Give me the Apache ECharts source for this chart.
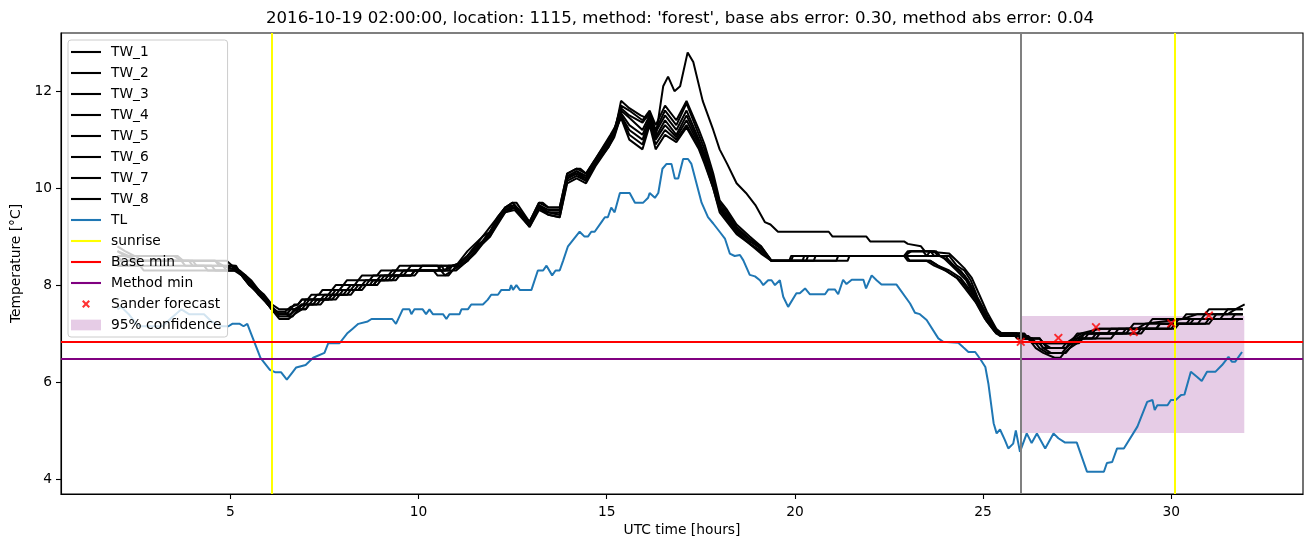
<!DOCTYPE html>
<html>
<head>
<meta charset="utf-8">
<script src="https://cdn.jsdelivr.net/npm/echarts@6/dist/echarts.min.js"></script>
<style>
html,body{margin:0;padding:0;background:#fff;}
#chart{width:1310px;height:547px;}
</style>
</head>
<body>
<div id="chart"></div>
<script>
// ---------------- data ----------------
const titleText = "2016-10-19 02:00:00, location: 1115, method: 'forest', base abs error: 0.30, method abs error: 0.04";
const xTicks = [5, 10, 15, 20, 25, 30];
const yTicks = [4, 6, 8, 10, 12];
const xRange = [0.5, 33.5];
const yRange = [3.69, 13.2];

const sunriseHours = [6.09, 30.08];
const baseMin = 6.825;
const methodMin = 6.47;
const forecastStart = 26.0;
const confHours = [26.0, 31.94];
const confBounds = [4.95, 7.36];
const sanderHours = [26, 27, 28, 29, 30, 31];
const sanderValues = [6.83, 6.91, 7.13, 7.03, 7.21, 7.37];

const tw1 = [[2.0,8.7],[2.2,8.6],[2.6,8.5],[4.6,8.5],[4.8,8.4],[5.2,8.3],[5.4,8.2],[5.6,8.0],[5.9,7.8],[6.1,7.6],[6.3,7.5],[6.6,7.5],[6.7,7.6],[6.8,7.6],[6.9,7.7],[7.05,7.7],[7.15,7.8],[7.35,7.8],[7.45,7.9],[7.7,7.9],[7.8,8.0],[8.0,8.0],[8.1,8.1],[8.4,8.1],[8.5,8.2],[8.9,8.2],[9.0,8.3],[9.4,8.3],[9.5,8.4],[10.5,8.4],[10.6,8.3],[10.9,8.3],[11.0,8.4],[11.3,8.7],[11.7,9.0],[12.0,9.3],[12.3,9.6],[12.5,9.7],[12.95,9.3],[13.2,9.7],[13.45,9.6],[13.75,9.6],[13.95,10.3],[14.2,10.4],[14.45,10.3],[14.7,10.6],[15.1,11.1],[15.25,11.3],[15.38,11.8],[15.6,11.65],[15.9,11.5],[16.05,11.45],[16.15,11.55],[16.3,11.05],[16.5,12.1],[16.63,12.3],[16.8,12.0],[16.95,12.1],[17.15,12.8],[17.3,12.6],[17.55,11.8],[17.83,11.2],[18.0,10.8],[18.2,10.5],[18.45,10.1],[18.7,9.9],[18.95,9.65],[19.2,9.3],[19.35,9.25],[19.55,9.1],[20.9,9.1],[21.0,9.0],[21.9,9.0],[22.0,8.9],[22.9,8.9],[23.0,8.85],[23.35,8.8],[23.45,8.7],[24.1,8.65],[24.3,8.5],[24.5,8.35],[24.7,8.15],[24.9,7.8],[25.1,7.45],[25.35,7.1],[25.5,7.0],[26.0,7.0],[26.3,6.9],[26.5,6.9],[26.6,6.8],[27.2,6.8],[27.4,6.9],[27.6,7.0],[28.1,7.1],[29.1,7.1],[29.3,7.2],[30.3,7.3],[30.7,7.4],[31.5,7.4],[31.7,7.5],[31.95,7.6]];
const tw2 = [[2.0,8.8],[2.2,8.7],[2.45,8.6],[3.6,8.6],[3.75,8.5],[4.9,8.5],[5.05,8.4],[5.25,8.3],[5.4,8.2],[5.55,8.1],[5.75,7.9],[5.95,7.7],[6.1,7.55],[6.25,7.45],[6.45,7.45],[6.6,7.55],[6.8,7.6],[6.9,7.7],[7.2,7.7],[7.3,7.8],[7.6,7.8],[7.7,7.9],[7.9,7.9],[8.0,8.0],[8.3,8.0],[8.4,8.1],[8.7,8.1],[8.8,8.2],[9.2,8.2],[9.3,8.3],[9.7,8.3],[9.8,8.4],[10.6,8.4],[10.7,8.3],[10.9,8.4],[11.1,8.45],[11.3,8.6],[11.5,8.8],[11.7,8.9],[11.9,9.1],[12.1,9.4],[12.3,9.6],[12.5,9.7],[12.6,9.7],[12.95,9.3],[13.2,9.7],[13.3,9.7],[13.45,9.6],[13.75,9.6],[13.95,10.3],[14.2,10.4],[14.3,10.4],[14.45,10.3],[14.7,10.6],[15.05,11.0],[15.2,11.2],[15.38,11.7],[15.6,11.6],[15.95,11.4],[16.14,11.6],[16.3,11.3],[16.55,11.7],[16.85,11.4],[17.12,11.8],[17.45,11.2],[17.6,10.9],[17.83,10.3],[18.0,9.75],[18.2,9.55],[18.45,9.25],[18.8,9.0],[19.1,8.8],[19.38,8.5],[19.85,8.5],[19.9,8.6],[22.95,8.6],[23.05,8.7],[23.7,8.7],[23.8,8.6],[24.1,8.6],[24.3,8.4],[24.5,8.3],[24.67,8.1],[24.85,7.75],[25.12,7.35],[25.38,7.05],[25.5,7.0],[26.0,7.0],[26.1,6.9],[26.5,6.9],[26.6,6.8],[27.3,6.8],[27.4,6.9],[27.5,7.0],[27.9,7.0],[28.0,7.1],[28.9,7.1],[29.0,7.2],[29.4,7.2],[29.5,7.3],[30.3,7.3],[30.4,7.4],[30.9,7.4],[31.0,7.5],[31.9,7.5]];
const tw3 = [[2.0,8.7],[2.3,8.6],[3.5,8.6],[3.7,8.5],[4.6,8.5],[4.7,8.4],[5.1,8.4],[5.3,8.2],[5.5,8.1],[5.7,7.9],[5.9,7.75],[6.05,7.6],[6.2,7.45],[6.3,7.35],[6.55,7.35],[6.7,7.5],[6.9,7.6],[7.1,7.6],[7.2,7.7],[7.4,7.7],[7.5,7.8],[7.8,7.8],[7.9,7.9],[8.1,7.9],[8.2,8.0],[8.5,8.0],[8.6,8.1],[9.0,8.1],[9.1,8.2],[9.5,8.2],[9.6,8.3],[10.0,8.3],[10.1,8.4],[10.9,8.4],[11.1,8.45],[11.3,8.6],[11.5,8.8],[11.7,9.0],[11.9,9.1],[12.1,9.35],[12.3,9.6],[12.55,9.65],[12.95,9.3],[13.2,9.65],[13.45,9.55],[13.75,9.55],[13.95,10.25],[14.2,10.35],[14.45,10.25],[14.7,10.55],[15.05,10.95],[15.2,11.2],[15.38,11.65],[15.6,11.5],[15.95,11.35],[16.14,11.55],[16.3,11.2],[16.55,11.6],[16.85,11.3],[17.12,11.75],[17.45,11.1],[17.6,10.8],[17.83,10.2],[18.0,9.7],[18.2,9.5],[18.45,9.2],[18.8,8.95],[19.1,8.8],[19.38,8.5],[20.3,8.5],[20.35,8.6],[22.9,8.6],[23.0,8.7],[23.6,8.7],[23.7,8.6],[24.0,8.6],[24.2,8.4],[24.4,8.3],[24.6,8.1],[24.8,7.8],[25.05,7.4],[25.3,7.1],[25.45,7.0],[25.9,7.0],[26.0,6.9],[26.3,6.9],[26.4,6.8],[26.6,6.8],[26.7,6.7],[27.1,6.7],[27.2,6.8],[27.4,6.8],[27.5,6.9],[27.7,7.0],[28.3,7.0],[28.4,7.1],[29.3,7.1],[29.4,7.2],[30.1,7.2],[30.2,7.3],[30.8,7.3],[30.9,7.4],[31.4,7.4],[31.5,7.5],[31.9,7.5]];
const tw4 = [[2.0,8.6],[2.5,8.6],[2.6,8.5],[3.7,8.5],[3.8,8.4],[5.0,8.4],[5.2,8.3],[5.35,8.2],[5.55,8.0],[5.75,7.8],[6.0,7.6],[6.15,7.45],[6.3,7.4],[6.6,7.4],[6.75,7.5],[6.95,7.6],[7.0,7.7],[7.5,7.7],[7.6,7.8],[7.7,7.8],[7.8,7.9],[8.2,7.9],[8.3,8.0],[8.6,8.0],[8.7,8.1],[8.9,8.1],[9.0,8.2],[9.3,8.2],[9.4,8.3],[10.5,8.3],[10.6,8.4],[11.0,8.4],[11.3,8.6],[11.5,8.75],[11.7,8.9],[11.9,9.1],[12.1,9.3],[12.3,9.55],[12.55,9.6],[12.95,9.25],[13.2,9.6],[13.45,9.5],[13.75,9.45],[13.95,10.2],[14.2,10.3],[14.45,10.2],[14.7,10.5],[15.05,10.9],[15.2,11.15],[15.38,11.6],[15.6,11.45],[15.95,11.2],[16.14,11.5],[16.3,11.15],[16.55,11.5],[16.85,11.2],[17.12,11.6],[17.45,11.0],[17.6,10.7],[17.83,10.2],[18.0,9.65],[18.2,9.45],[18.45,9.15],[18.8,8.95],[19.1,8.75],[19.38,8.5],[20.5,8.5],[20.55,8.6],[23.5,8.6],[23.6,8.7],[23.75,8.7],[23.85,8.6],[24.1,8.5],[24.3,8.35],[24.5,8.2],[24.7,7.95],[24.9,7.6],[25.15,7.25],[25.4,7.0],[26.1,7.0],[26.2,6.9],[26.5,6.9],[26.6,6.8],[26.8,6.7],[27.2,6.7],[27.3,6.8],[27.5,6.8],[27.6,6.9],[28.0,6.9],[28.1,7.0],[28.7,7.0],[28.8,7.1],[29.6,7.1],[29.7,7.2],[30.4,7.2],[30.5,7.3],[31.1,7.3],[31.2,7.4],[31.9,7.4]];
const tw5 = [[2.0,8.6],[2.1,8.5],[4.0,8.5],[4.1,8.4],[4.5,8.4],[4.6,8.3],[5.1,8.3],[5.3,8.2],[5.5,8.0],[5.7,7.85],[5.95,7.65],[6.1,7.5],[6.25,7.4],[6.5,7.4],[6.6,7.5],[6.8,7.5],[6.9,7.6],[7.2,7.6],[7.3,7.7],[7.6,7.7],[7.7,7.8],[8.0,7.8],[8.1,7.9],[8.4,7.9],[8.5,8.0],[8.8,8.0],[8.9,8.1],[9.1,8.1],[9.2,8.2],[9.6,8.2],[9.7,8.3],[10.7,8.3],[10.8,8.4],[11.1,8.4],[11.3,8.5],[11.5,8.7],[11.7,8.9],[11.9,9.05],[12.1,9.3],[12.3,9.55],[12.55,9.6],[12.95,9.2],[13.2,9.6],[13.45,9.45],[13.75,9.4],[13.95,10.15],[14.2,10.25],[14.45,10.15],[14.7,10.5],[15.05,10.9],[15.2,11.1],[15.38,11.55],[15.6,11.3],[15.95,11.1],[16.14,11.45],[16.3,11.05],[16.55,11.4],[16.85,11.1],[17.12,11.5],[17.45,10.95],[17.6,10.65],[17.83,10.1],[18.0,9.6],[18.2,9.4],[18.45,9.15],[18.8,8.9],[19.1,8.75],[19.38,8.5],[21.1,8.5],[21.15,8.6],[22.9,8.6],[23.0,8.5],[23.6,8.5],[23.8,8.4],[24.1,8.25],[24.4,8.1],[24.6,7.9],[24.85,7.6],[25.1,7.25],[25.35,7.0],[25.5,6.95],[26.0,6.95],[26.1,6.9],[26.3,6.9],[26.4,6.8],[26.5,6.7],[26.7,6.6],[27.1,6.6],[27.2,6.7],[27.35,6.8],[27.45,6.9],[27.7,6.9],[27.8,7.0],[28.8,7.0],[28.9,7.1],[29.9,7.1],[30.0,7.2],[30.7,7.2],[30.8,7.3],[31.3,7.3],[31.4,7.4],[31.9,7.4]];
const tw6 = [[2.0,8.5],[3.9,8.5],[4.0,8.4],[4.8,8.4],[4.9,8.3],[5.2,8.3],[5.4,8.1],[5.6,8.0],[5.8,7.8],[6.0,7.6],[6.2,7.4],[6.3,7.3],[6.55,7.3],[6.7,7.4],[6.9,7.5],[7.0,7.5],[7.1,7.6],[7.3,7.6],[7.4,7.7],[7.8,7.7],[7.9,7.8],[8.2,7.8],[8.3,7.9],[8.5,7.9],[8.6,8.0],[8.9,8.0],[9.0,8.1],[9.4,8.1],[9.5,8.2],[9.9,8.2],[10.0,8.3],[10.4,8.3],[10.5,8.2],[10.8,8.2],[10.9,8.3],[11.0,8.3],[11.3,8.5],[11.5,8.65],[11.7,8.85],[11.9,9.0],[12.1,9.25],[12.3,9.5],[12.55,9.55],[12.95,9.2],[13.2,9.55],[13.45,9.45],[13.75,9.4],[13.95,10.1],[14.2,10.2],[14.45,10.1],[14.7,10.45],[15.05,10.85],[15.2,11.05],[15.38,11.5],[15.6,11.2],[15.95,11.0],[16.14,11.4],[16.3,11.0],[16.55,11.3],[16.85,11.05],[17.12,11.4],[17.45,10.9],[17.6,10.6],[17.83,10.1],[18.0,9.6],[18.2,9.35],[18.45,9.1],[18.8,8.85],[19.1,8.7],[19.38,8.5],[21.4,8.5],[21.45,8.6],[22.95,8.6],[23.05,8.5],[23.5,8.5],[23.7,8.4],[24.0,8.3],[24.3,8.15],[24.5,7.95],[24.8,7.65],[25.05,7.3],[25.3,7.05],[25.45,6.95],[26.2,6.95],[26.3,6.85],[26.5,6.8],[26.6,6.7],[27.2,6.7],[27.3,6.8],[27.55,6.8],[27.65,6.9],[28.4,6.9],[28.5,7.0],[29.1,7.0],[29.2,7.1],[30.1,7.1],[30.2,7.2],[31.0,7.2],[31.1,7.3],[31.9,7.3]];
const tw7 = [[2.0,8.4],[4.3,8.4],[4.4,8.3],[5.2,8.3],[5.35,8.2],[5.5,8.1],[5.7,7.9],[5.9,7.7],[6.05,7.55],[6.2,7.45],[6.45,7.45],[6.55,7.35],[6.65,7.35],[6.8,7.5],[7.0,7.5],[7.1,7.6],[7.4,7.6],[7.5,7.7],[7.7,7.7],[7.8,7.8],[8.1,7.8],[8.2,7.9],[8.3,7.9],[8.4,8.0],[8.7,8.0],[8.8,8.1],[9.2,8.1],[9.3,8.2],[9.8,8.2],[9.9,8.3],[10.8,8.3],[10.9,8.4],[11.1,8.4],[11.3,8.5],[11.5,8.7],[11.7,8.85],[11.9,9.0],[12.1,9.3],[12.3,9.5],[12.55,9.6],[12.95,9.3],[13.2,9.6],[13.45,9.5],[13.75,9.45],[13.95,10.2],[14.2,10.3],[14.45,10.15],[14.7,10.5],[15.05,10.85],[15.2,11.1],[15.38,11.5],[15.6,11.1],[15.95,10.9],[16.14,11.35],[16.3,10.9],[16.55,11.2],[16.85,11.0],[17.12,11.3],[17.45,10.85],[17.6,10.55],[17.83,10.0],[18.0,9.55],[18.2,9.35],[18.45,9.1],[18.8,8.85],[19.1,8.7],[19.38,8.5],[19.9,8.5],[19.95,8.6],[22.9,8.6],[23.1,8.7],[23.4,8.7],[23.5,8.6],[23.9,8.6],[24.1,8.45],[24.3,8.3],[24.55,8.1],[24.75,7.8],[25.0,7.45],[25.25,7.15],[25.4,7.0],[25.8,7.0],[25.9,6.9],[26.2,6.9],[26.3,6.8],[26.4,6.7],[26.6,6.6],[26.9,6.5],[27.05,6.5],[27.15,6.6],[27.3,6.7],[27.4,6.8],[27.6,6.9],[27.7,7.0],[28.5,7.0],[28.6,7.1],[29.6,7.1],[29.7,7.2],[30.5,7.2],[30.6,7.3],[31.6,7.3],[31.7,7.4],[31.9,7.4]];
const tw8 = [[2.0,8.4],[2.6,8.4],[2.7,8.3],[4.9,8.3],[5.0,8.4],[5.15,8.4],[5.3,8.2],[5.5,8.0],[5.7,7.9],[5.95,7.65],[6.1,7.5],[6.3,7.4],[6.5,7.4],[6.6,7.5],[6.9,7.5],[7.0,7.6],[7.1,7.7],[7.6,7.7],[7.7,7.8],[7.9,7.8],[8.0,7.9],[8.4,7.9],[8.5,8.0],[8.8,8.0],[8.9,8.1],[9.3,8.1],[9.4,8.2],[9.8,8.2],[9.9,8.3],[10.6,8.3],[10.7,8.2],[10.9,8.3],[11.1,8.4],[11.3,8.55],[11.5,8.7],[11.7,8.9],[11.9,9.05],[12.1,9.3],[12.3,9.55],[12.55,9.65],[12.95,9.25],[13.2,9.65],[13.45,9.5],[13.75,9.5],[13.95,10.2],[14.2,10.35],[14.45,10.2],[14.7,10.55],[15.05,10.95],[15.2,11.15],[15.38,11.45],[15.6,11.0],[15.95,10.8],[16.14,11.3],[16.3,10.8],[16.55,11.1],[16.85,10.95],[17.12,11.25],[17.45,10.8],[17.6,10.5],[17.83,10.0],[18.0,9.5],[18.2,9.3],[18.45,9.05],[18.8,8.85],[19.1,8.65],[19.38,8.5],[20.2,8.5],[20.25,8.6],[22.95,8.6],[23.05,8.5],[23.6,8.5],[23.8,8.4],[24.1,8.3],[24.4,8.15],[24.6,7.95],[24.85,7.65],[25.1,7.3],[25.35,7.05],[25.5,7.0],[25.9,7.0],[26.0,6.9],[26.2,6.9],[26.3,6.8],[26.5,6.8],[26.6,6.7],[26.8,6.6],[27.2,6.6],[27.3,6.7],[27.5,6.8],[27.6,6.9],[27.9,6.9],[28.0,7.0],[29.2,7.0],[29.3,7.1],[30.0,7.1],[30.1,7.2],[30.9,7.2],[31.0,7.3],[31.9,7.3]];

const tl = [[2.0,7.5],[2.1,7.55],[2.3,7.4],[2.5,7.2],[2.6,7.15],[3.0,7.15],[3.2,7.15],[3.4,7.3],[3.7,7.5],[3.9,7.4],[4.3,7.4],[4.5,7.25],[4.75,7.15],[4.95,7.15],[5.05,7.2],[5.25,7.2],[5.35,7.15],[5.45,7.2],[5.55,7.0],[5.7,6.7],[5.8,6.5],[6.05,6.25],[6.2,6.2],[6.35,6.2],[6.5,6.05],[6.65,6.2],[6.75,6.3],[7.0,6.35],[7.2,6.5],[7.5,6.6],[7.6,6.8],[7.9,6.8],[8.1,7.0],[8.25,7.1],[8.4,7.2],[8.65,7.25],[8.75,7.3],[9.3,7.3],[9.4,7.2],[9.58,7.5],[9.76,7.5],[9.81,7.4],[9.89,7.5],[10.11,7.5],[10.2,7.4],[10.29,7.5],[10.38,7.4],[10.65,7.4],[10.74,7.3],[10.82,7.4],[11.09,7.4],[11.14,7.5],[11.31,7.5],[11.4,7.6],[11.71,7.6],[11.84,7.7],[11.93,7.8],[12.11,7.8],[12.2,7.9],[12.42,7.9],[12.46,8.0],[12.51,7.9],[12.6,8.0],[12.69,7.9],[13.0,7.9],[13.17,8.3],[13.31,8.3],[13.4,8.4],[13.55,8.2],[13.64,8.3],[13.75,8.3],[13.84,8.5],[13.97,8.8],[14.28,9.1],[14.41,9.0],[14.5,9.0],[14.59,9.1],[14.68,9.1],[14.86,9.3],[14.95,9.4],[15.03,9.4],[15.12,9.6],[15.21,9.5],[15.35,9.9],[15.61,9.9],[15.75,9.7],[15.97,9.7],[16.1,9.8],[16.14,9.9],[16.28,9.8],[16.37,9.9],[16.48,10.4],[16.59,10.5],[16.72,10.5],[16.81,10.2],[16.9,10.2],[17.03,10.6],[17.16,10.6],[17.25,10.5],[17.52,9.7],[17.69,9.4],[17.83,9.27],[18.0,9.1],[18.14,8.96],[18.27,8.65],[18.4,8.6],[18.54,8.62],[18.63,8.51],[18.8,8.21],[18.94,8.18],[19.07,8.1],[19.16,8.0],[19.29,8.1],[19.38,8.1],[19.47,8.0],[19.6,8.1],[19.69,7.76],[19.82,7.55],[20.04,7.83],[20.13,7.83],[20.27,7.93],[20.4,7.81],[20.8,7.81],[20.89,7.91],[21.06,7.91],[21.15,7.81],[21.28,8.11],[21.37,8.02],[21.51,8.11],[21.82,8.11],[21.89,7.93],[22.04,8.2],[22.17,8.1],[22.3,8.01],[22.7,8.01],[23.06,7.62],[23.19,7.43],[23.32,7.4],[23.5,7.28],[23.81,6.9],[23.94,6.83],[24.34,6.81],[24.48,6.71],[24.61,6.62],[24.79,6.62],[24.92,6.48],[25.06,6.31],[25.14,5.97],[25.28,5.15],[25.36,4.94],[25.45,5.02],[25.58,4.8],[25.67,4.63],[25.8,4.73],[25.87,5.0],[25.98,4.56],[26.03,4.53],[26.16,4.94],[26.29,4.74],[26.43,4.94],[26.65,4.63],[26.87,4.94],[27.0,4.84],[27.18,4.75],[27.49,4.75],[27.76,4.15],[28.21,4.15],[28.29,4.33],[28.43,4.35],[28.56,4.63],[28.74,4.63],[29.1,5.08],[29.36,5.59],[29.5,5.63],[29.56,5.42],[29.63,5.52],[29.9,5.52],[29.99,5.63],[30.12,5.63],[30.26,5.73],[30.35,5.74],[30.52,6.21],[30.68,6.11],[30.81,6.02],[30.95,6.21],[31.17,6.21],[31.35,6.35],[31.52,6.52],[31.61,6.42],[31.7,6.42],[31.88,6.62]];

const twNames = ['TW_1','TW_2','TW_3','TW_4','TW_5','TW_6','TW_7','TW_8'];
const twData = [tw1, tw2, tw3, tw4, tw5, tw6, tw7, tw8];

// ---------------- chart ----------------
const FONT = 'DejaVu Sans';
const chart = echarts.init(document.getElementById('chart'), null, {renderer: 'canvas'});

const xMarker = 'path://M0,1.5 L1.5,0 L5,3.5 L8.5,0 L10,1.5 L6.5,5 L10,8.5 L8.5,10 L5,6.5 L1.5,10 L0,8.5 L3.5,5 Z';
const lineIcon = 'path://M0,0 H30 V2.1 H0 Z';

const series = [];
twNames.forEach((n, i) => {
  series.push({
    name: n, type: 'line', data: twData[i], symbol: 'none', showSymbol: false,
    color: '#000000', lineStyle: {color: '#000000', width: 2}, z: 2, animation: false
  });
});
series.push({
  name: 'TL', type: 'line', data: tl, symbol: 'none', showSymbol: false,
  color: '#1f77b4', lineStyle: {color: '#1f77b4', width: 2}, z: 3, animation: false
});
series.push({
  name: 'sunrise', type: 'line', data: [], symbol: 'none', color: '#ffff00',
  lineStyle: {color: '#ffff00', width: 2}, z: 4, animation: false,
  markLine: {symbol: ['none','none'], silent: true, label: {show: false}, animation: false,
    lineStyle: {color: '#ffff00', width: 2, type: 'solid'},
    data: sunriseHours.map(h => ({xAxis: h}))}
});
series.push({
  name: 'Base min', type: 'line', data: [], symbol: 'none', color: '#ff0000',
  lineStyle: {color: '#ff0000', width: 2}, z: 5, animation: false,
  markLine: {symbol: ['none','none'], silent: true, label: {show: false}, animation: false,
    lineStyle: {color: '#ff0000', width: 2, type: 'solid'},
    data: [{yAxis: baseMin}]}
});
series.push({
  name: 'Method min', type: 'line', data: [], symbol: 'none', color: '#800080',
  lineStyle: {color: '#800080', width: 2}, z: 5, animation: false,
  markLine: {symbol: ['none','none'], silent: true, label: {show: false}, animation: false,
    lineStyle: {color: '#800080', width: 2, type: 'solid'},
    data: [{yAxis: methodMin}]}
});
series.push({
  name: 'forecast start', type: 'line', data: [], symbol: 'none', color: '#808080',
  lineStyle: {color: '#808080', width: 2}, z: 6, animation: false,
  markLine: {symbol: ['none','none'], silent: true, label: {show: false}, animation: false,
    lineStyle: {color: '#808080', width: 2, type: 'solid'},
    data: [{xAxis: forecastStart}]}
});
series.push({
  name: 'Sander forecast', type: 'scatter', data: sanderHours.map((h, i) => [h, sanderValues[i]]),
  symbol: xMarker, symbolSize: 9, color: '#ff0000', itemStyle: {color: '#ff0000'}, z: 7, animation: false
});
series.push({
  name: '95% confidence', type: 'line', data: [], symbol: 'none', color: 'rgba(128,0,128,0.2)',
  lineStyle: {color: 'rgba(128,0,128,0.2)', width: 0}, z: 1, animation: false,
  markArea: {silent: true, animation: false, itemStyle: {color: 'rgba(128,0,128,0.2)'},
    data: [[{xAxis: confHours[0], yAxis: confBounds[0]}, {xAxis: confHours[1], yAxis: confBounds[1]}]]}
});

const legendNames = twNames.concat(['TL','sunrise','Base min','Method min','Sander forecast','95% confidence']);
const legendData = legendNames.map(n => {
  if (n === '95% confidence') return {name: n, icon: 'path://M0,0 H28 V10 H0 Z'};
  if (n === 'Sander forecast') return {name: n, icon: 'path://M0,0 L0.01,0 L0,0.01 Z M30,12 L29.99,12 L30,11.99 Z M11,3.5 L12.5,2 L15,4.5 L17.5,2 L19,3.5 L16.5,6 L19,8.5 L17.5,10 L15,7.5 L12.5,10 L11,8.5 L13.5,6 Z'};
  return {name: n, icon: lineIcon};
});

const option = {
  backgroundColor: '#ffffff',
  animation: false,
  textStyle: {fontFamily: FONT},
  title: {
    text: titleText, left: 266, top: 10, padding: 0,
    textStyle: {fontFamily: FONT, fontSize: 16.6, fontWeight: 'normal', color: '#000'}
  },
  grid: {left: 61, right: 7, top: 33, bottom: 53, show: true, borderColor: '#000', borderWidth: 1.1, backgroundColor: 'transparent'},
  legend: {
    orient: 'vertical', left: 68, top: 40, data: legendData,
    itemWidth: 30, itemHeight: 12, itemGap: 7,
    padding: [5, 6, 5, 3],
    backgroundColor: 'rgba(255,255,255,0.8)', borderColor: '#cccccc', borderWidth: 1, borderRadius: 3,
    textStyle: {fontFamily: FONT, fontSize: 13.8, color: '#000', padding: [0, 0, 0, 5]},
    selectedMode: false, z: 20
  },
  xAxis: {
    type: 'value', min: xRange[0], max: xRange[1],
    name: 'UTC time [hours]', nameLocation: 'middle', nameGap: 29,
    nameTextStyle: {fontFamily: FONT, fontSize: 13.8, color: '#000'},
    axisLine: {show: true, onZero: false, lineStyle: {color: '#000', width: 1.1}},
    axisTick: {show: true, inside: false, length: 5, lineStyle: {color: '#000', width: 1.1}, customValues: xTicks},
    axisLabel: {show: true, margin: 11, fontFamily: FONT, fontSize: 13.8, color: '#000', customValues: xTicks, formatter: v => String(v)},
    splitLine: {show: false}
  },
  yAxis: {
    type: 'value', min: yRange[0], max: yRange[1],
    name: 'Temperature [°C]', nameLocation: 'middle', nameGap: 36,
    nameTextStyle: {fontFamily: FONT, fontSize: 13.8, color: '#000'},
    axisLine: {show: true, onZero: false, lineStyle: {color: '#000', width: 1.1}},
    axisTick: {show: true, inside: false, length: 5, lineStyle: {color: '#000', width: 1.1}, customValues: yTicks},
    axisLabel: {show: true, margin: 9, fontFamily: FONT, fontSize: 13.8, color: '#000', customValues: yTicks, formatter: v => String(v)},
    splitLine: {show: false}
  },
  series: series
};
chart.setOption(option);
</script>
</body>
</html>
